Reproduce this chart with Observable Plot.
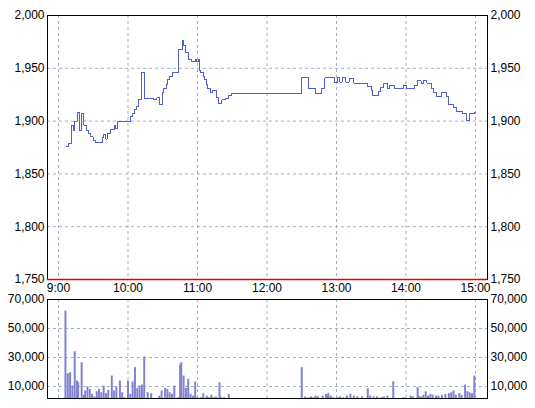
<!DOCTYPE html>
<html><head><meta charset="utf-8">
<script src="https://cdn.jsdelivr.net/npm/d3@7"></script>
<script src="https://cdn.jsdelivr.net/npm/@observablehq/plot@0.6"></script>
<style>
html,body{margin:0;padding:0;background:#fff;}
#chart{position:relative;width:535px;height:408px;overflow:hidden;background:#fff;}
#chart svg{position:absolute;left:0;}
</style></head><body><div id="chart"></div>
<script>
// ---- data ----
const priceTimes = ["9:07","9:09","9:11","9:13","9:14","9:16","9:18","9:20","9:22","9:24","9:26","9:28","9:30","9:32","9:38","9:39","9:41","9:42","9:45","9:48","9:49","9:51","10:02","10:04","10:06","10:07","10:09","10:12","10:14","10:22","10:25","10:27","10:30","10:31","10:33","10:34","10:36","10:38","10:44","10:47","10:48","10:50","10:52","10:55","10:58","10:59","11:01","11:02","11:03","11:05","11:06","11:08","11:09","11:11","11:13","11:16","11:18","11:21","11:24","11:27","11:29",
"12:30","12:36","12:42","12:47","12:50","12:58","13:01","13:03","13:05","13:08","13:11","13:15","13:27","13:30","13:31","13:36","13:38","13:41","13:44","13:46","13:50","13:58","14:00","14:07","14:10","14:13","14:15","14:18","14:22","14:24","14:26","14:31","14:35","14:37","14:41","14:44","14:49","14:52","14:55","14:59","15:00"];
const priceValues = [1876,1879,1896,1891,1900,1908,1891,1907,1896,1891,1888,1885,1882,1880,1884,1887,1883,1888,1892,1896,1893,1900,1904,1907,1911,1914,1920,1946,1921,1920,1922,1916,1927,1931,1935,1939,1942,1946,1968,1976,1972,1965,1958,1956,1958,1956,1958,1948,1946,1942,1939,1935,1931,1927,1929,1922,1917,1920,1921,1924,1926,
1941,1931,1926,1931,1941,1937,1941,1937,1941,1937,1940,1936,1933,1929,1924,1928,1932,1936,1931,1934,1931,1934,1931,1934,1938,1936,1938,1936,1931,1927,1923,1927,1923,1916,1913,1909,1907,1901,1907,1908,1908];

const volumeTimes = ["9:06","9:08","9:10","9:12","9:14","9:16","9:17","9:20","9:22","9:23","9:25","9:27","9:29","9:31","9:33","9:35","9:37","9:39","9:41","9:43","9:46","9:48","9:50","9:53","9:55","9:57","10:00","10:02","10:04","10:06","10:08","10:10","10:12","10:14","10:17","10:20","10:24","10:27","10:29","10:32","10:34","10:36","10:38","10:40","10:43","10:45","10:46","10:48","10:50","10:52","10:54","10:56","10:58","11:00","11:03","11:05","11:08","11:10","11:12","11:14","11:16","11:19","11:20","11:23","11:27",
"12:30","12:33","12:36","12:38","12:40","12:42","12:44","12:48","12:51","12:52","12:53","12:55","12:57","13:01","13:03","13:06","13:09","13:12","13:15","13:18","13:22","13:27","13:29","13:32","13:35","13:39","13:41","13:44","13:49","13:54","13:58","14:00","14:04","14:06","14:10","14:11","14:13","14:15","14:17","14:19","14:21","14:23","14:26","14:28","14:31","14:34","14:37","14:39","14:41","14:43","14:46","14:48","14:51","14:53","14:55","14:57","14:59"];
const volumeValues = [62100,18800,19500,10400,34000,13800,12600,26400,3900,6900,9700,8000,4600,2800,6400,8000,5700,10300,5100,7400,17200,6900,9700,13800,5700,2300,13800,4600,13100,23000,8700,10300,11000,30400,5700,5100,1800,3400,6900,8700,8000,5700,4600,10300,2300,24800,26400,17200,8700,15000,4600,3400,13100,2300,2300,5100,3400,2300,3900,2300,2800,12600,2800,2300,4500,
23000,2800,2300,2800,2300,3400,2800,3400,4600,3400,5300,3400,2300,2300,2800,2300,3400,4600,3400,2800,2800,8500,3400,2800,2800,2300,2800,3400,13300,1800,2300,1800,3400,2800,9200,3400,2800,4000,6400,3400,4600,4000,3400,3400,4000,4600,5100,5700,6900,4000,5100,4000,11000,6400,5700,5100,17200];

const hourLabels = ["9:00","10:00","11:00","12:00","13:00","14:00","15:00"];
const priceTicks = [1750,1800,1850,1900,1950,2000];
const priceGrid = [1800,1850,1900,1950];
const volumeTicks = [10000,30000,50000,70000];
const volumeGrid = [10000,30000,50000];

// ---- helpers ----
const toDate = s => { const [h, m] = s.split(":").map(Number); return new Date(2000, 0, 1, h, m); };
const hourDates = hourLabels.map(toDate);
const hourFmt = d => hourLabels[hourDates.findIndex(h => +h === +d)];
const numFmt = d3.format(",");
const priceData = priceTimes.map((t, i) => ({time: toDate(t), price: priceValues[i]}));
const volumeData = volumeTimes.map((t, i) => ({time: toDate(t), vol: volumeValues[i]}));

const gridColor = "#9fb3c8";
const lineColor = "#4f5ed0";
const barColor = "#8282d2";
const font = "'Liberation Sans', Arial, sans-serif";
const xDomain = [hourDates[0], hourDates[hourDates.length - 1]];

const price = Plot.plot({
  width: 535, height: 296,
  marginLeft: 47, marginRight: 48, marginTop: 15, marginBottom: 17,
  style: {fontFamily: font, fontSize: "12px", color: "black", background: "white", overflow: "visible"},
  x: {type: "time", domain: xDomain, range: [58, 475], label: null},
  y: {domain: [1750, 2000], range: [279, 15], label: null},
  marks: [
    Plot.gridY(priceGrid, {stroke: gridColor, strokeOpacity: 1, strokeDasharray: "3,3"}),
    Plot.gridX(hourDates, {stroke: gridColor, strokeOpacity: 1, strokeDasharray: "3,3"}),
    Plot.line(priceData, {x: "time", y: "price", curve: "step-after", stroke: lineColor, strokeWidth: 1, shapeRendering: "crispEdges"}),
    Plot.frame({stroke: "black"}),
    Plot.ruleY([1750], {stroke: "#ee0000", strokeWidth: 1.5}),
    Plot.axisY(priceTicks, {anchor: "left", label: null, tickSize: 0, tickPadding: 3, tickFormat: numFmt, fontSize: 12}),
    Plot.axisY(priceTicks, {anchor: "right", label: null, tickSize: 0, tickPadding: 3, tickFormat: numFmt, fontSize: 12}),
    Plot.axisX(hourDates, {anchor: "bottom", label: null, tickSize: 0, tickPadding: 4, tickFormat: hourFmt, fontSize: 12})
  ]
});
price.style.top = "0px";

const volume = Plot.plot({
  width: 535, height: 118,
  marginLeft: 47, marginRight: 48, marginTop: 9, marginBottom: 10,
  style: {fontFamily: font, fontSize: "12px", color: "black", background: "transparent", overflow: "visible"},
  x: {type: "time", domain: xDomain, range: [58, 475], axis: null, label: null},
  y: {domain: [0, 70000], range: [110.5, 9], label: null},
  marks: [
    Plot.gridY(volumeGrid, {stroke: gridColor, strokeOpacity: 1, strokeDasharray: "3,3"}),
    Plot.gridX(hourDates, {stroke: gridColor, strokeOpacity: 1, strokeDasharray: "3,3"}),
    Plot.ruleX(volumeData, {x: "time", y1: 0, y2: "vol", stroke: barColor, strokeWidth: 2, clip: true}),
    Plot.frame({stroke: "black"}),
    Plot.axisY(volumeTicks, {anchor: "left", label: null, tickSize: 0, tickPadding: 3, tickFormat: numFmt, fontSize: 12}),
    Plot.axisY(volumeTicks, {anchor: "right", label: null, tickSize: 0, tickPadding: 3, tickFormat: numFmt, fontSize: 12})
  ]
});
volume.style.top = "290px";

const chart = document.getElementById("chart");
chart.appendChild(price);
chart.appendChild(volume);
</script></body></html>
